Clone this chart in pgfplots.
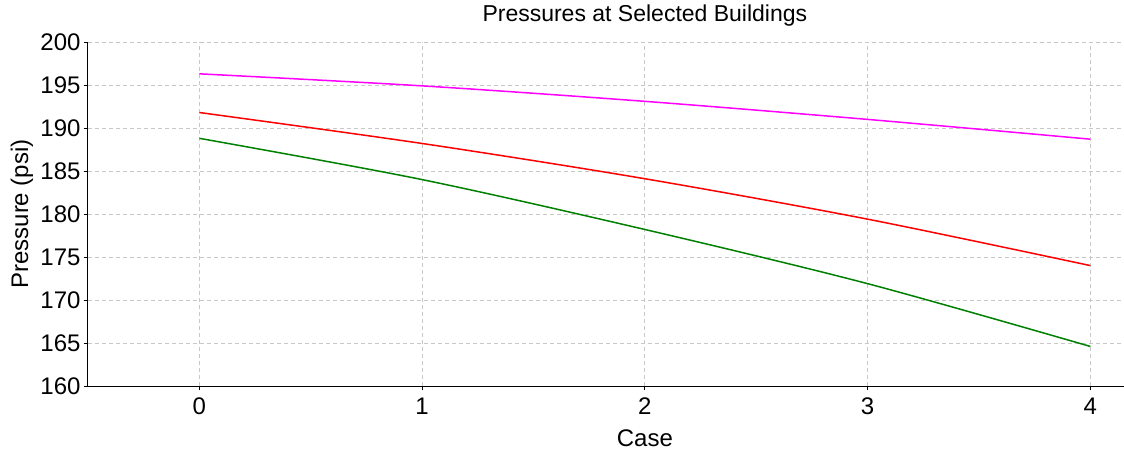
\documentclass[border=0pt]{standalone}
\usepackage{fontspec}
\setmainfont{Liberation Sans}
\usepackage{pgfplots}
\pgfplotsset{compat=1.18}
\definecolor{gridgray}{HTML}{C8C8C8}
\definecolor{mag}{HTML}{FF00FF}
\definecolor{redl}{HTML}{FF0000}
\definecolor{greenl}{HTML}{008000}
\begin{document}
\begin{tikzpicture}
\begin{axis}[
  scale only axis,
  width=1113.75pt, height=344pt,
  xmin=-0.5, xmax=4.5, ymin=160, ymax=200,
  xtick={0,1,2,3,4}, ytick={160,165,...,200},
  axis x line*=bottom, axis y line*=left,
  axis line style={black, line width=1pt, -},
  tick style={black, line width=1pt},
  tick align=outside, major tick length=4pt,
  grid=major,
  major grid style={gridgray, line width=1pt, dash pattern=on 4pt off 3pt},
  /pgf/number format/assume math mode=true,
  ticklabel style={font=\fontsize{24}{24}\selectfont},
  xticklabel style={yshift=-4pt},
  title={Pressures at Selected Buildings},
  title style={font=\fontsize{23}{23}\selectfont, at={(axis description cs:0.5,1)}, anchor=base, yshift=15pt},
  xlabel={Case},
  xlabel style={font=\fontsize{24}{24}\selectfont, at={(axis description cs:0.5,0)}, anchor=base, yshift=-60pt},
  ylabel={Pressure (psi)},
  ylabel style={font=\fontsize{24}{24}\selectfont, at={(axis description cs:-0.0593,0.5)}, anchor=center, rotate=0},
]
\addplot[mag, line width=1.5pt, smooth] coordinates {(0,196.3) (1,194.9) (2,193.1) (3,191.0) (4,188.7)};
\addplot[redl, line width=1.5pt, smooth] coordinates {(0,191.8) (1,188.2) (2,184.1) (3,179.4) (4,174.0)};
\addplot[greenl, line width=1.5pt, smooth] coordinates {(0,188.8) (1,184.0) (2,178.2) (3,171.9) (4,164.6)};
\end{axis}
\pgfresetboundingbox
\path ([shift={(-88pt,-64pt)}]current axis.south west) rectangle ([shift={(1036pt,386pt)}]current axis.south west);
\end{tikzpicture}
\end{document}
